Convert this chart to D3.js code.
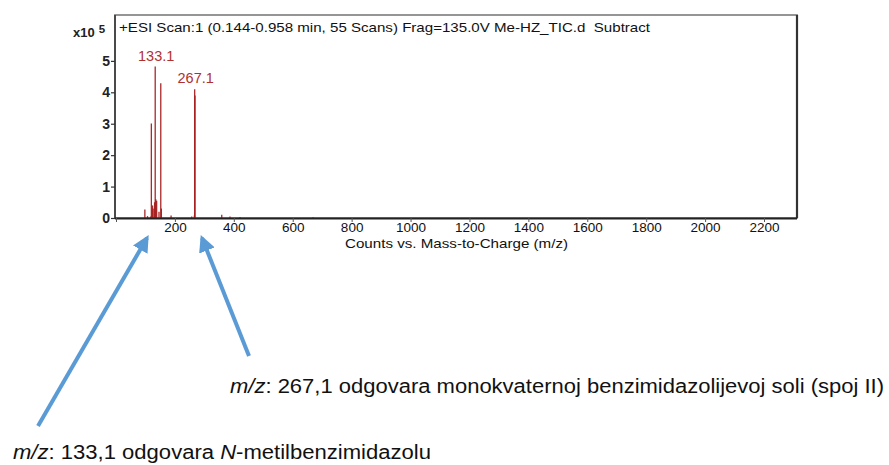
<!DOCTYPE html>
<html>
<head>
<meta charset="utf-8">
<script src="https://cdn.jsdelivr.net/npm/d3@7"></script>
<style>
  html, body { margin: 0; padding: 0; background: #fff; }
  svg { display: block; font-family: "Liberation Sans", Arial, sans-serif; }
</style>
</head>
<body>
<svg id="chart" width="889" height="465"></svg>
<script>
// Mass spectrum peaks: m/z and abundance (counts x10^5)
const mz =     [98, 107, 118, 120, 124, 126, 131, 133.1, 135, 138, 146, 152, 154, 187, 257, 266, 267.1, 268.1, 359, 387, 421, 669];
const counts = [0.27, 0.06, 0.05, 3.01, 0.4, 0.3, 0.5, 4.82, 0.6, 0.55, 0.2, 4.29, 0.3, 0.08, 0.05, 0.08, 4.10, 3.9, 0.1, 0.05, 0.03, 0.02];
const labelledPeaks = [133.1, 267.1];
const xTicks = [0, 200, 400, 600, 800, 1000, 1200, 1400, 1600, 1800, 2000, 2200];
const yTicks = [0, 1, 2, 3, 4, 5];
const headerText = "+ESI Scan:1 (0.144-0.958 min, 55 Scans) Frag=135.0V Me-HZ_TIC.d  Subtract";
const xTitle = "Counts vs. Mass-to-Charge (m/z)";
const notes = [
  { mz: 267.1, pre: "m/z", text: ": 267,1 odgovara monokvaternoj benzimidazolijevoj soli (spoj II)" },
  { mz: 133.1, pre: "m/z", text: ": 133,1 odgovara ", ital: "N", post: "-metilbenzimidazolu" }
];

const svg = d3.select("#chart");
const frame = { left: 115, top: 15, right: 797, bottom: 218 };

const x = d3.scaleLinear().domain([0, 2312]).range([116, 797]);
const y = d3.scaleLinear().domain([0, 6.46]).range([218, 15]);

// plot frame: light top/left, darker right edge
svg.append("rect")
  .attr("x", frame.left).attr("y", frame.top)
  .attr("width", frame.right - frame.left).attr("height", frame.bottom - frame.top)
  .attr("fill", "#fff").attr("stroke", "#8a8a8a").attr("stroke-width", 1.8);
svg.append("line")
  .attr("x1", frame.right).attr("x2", frame.right)
  .attr("y1", frame.top).attr("y2", frame.bottom)
  .attr("stroke", "#333").attr("stroke-width", 2.2);
svg.append("line")
  .attr("x1", frame.left).attr("x2", frame.left)
  .attr("y1", frame.top).attr("y2", frame.bottom)
  .attr("stroke", "#222").attr("stroke-width", 1.3);

// peaks
const peaks = mz.map((m, i) => ({ mz: m, v: counts[i] }));
svg.append("g").selectAll("line").data(peaks).join("line")
  .attr("x1", d => x(d.mz)).attr("x2", d => x(d.mz))
  .attr("y1", y(0)).attr("y2", d => y(d.v))
  .attr("stroke", "#a51c1c").attr("stroke-width", 1.3)
  .attr("stroke-opacity", 0.95);

// peak labels
svg.append("g").selectAll("text").data(peaks.filter(d => labelledPeaks.includes(d.mz))).join("text")
  .attr("x", d => x(d.mz) + 1).attr("y", d => y(d.v) - 6)
  .attr("text-anchor", "middle")
  .attr("font-size", 14.5).attr("fill", "#b0302e")
  .text(d => d.mz.toFixed(1));

// x axis
const xAxis = svg.append("g").attr("transform", `translate(0,${frame.bottom})`)
  .call(d3.axisBottom(x).tickValues(xTicks).tickSize(4).tickSizeOuter(0)
    .tickFormat(d => d === 0 ? "" : d));
xAxis.select(".domain").attr("stroke", "#222").attr("stroke-width", 2).attr("d", `M${frame.left},0.5H${frame.right}`);
xAxis.selectAll(".tick line").attr("stroke", "#555");
xAxis.selectAll(".tick text").attr("font-family", "Liberation Sans, Arial, sans-serif")
  .attr("font-size", 13.5).attr("fill", "#111").attr("dy", "0.5em");

// y axis
const yAxis = svg.append("g").attr("transform", `translate(${frame.left},0)`)
  .call(d3.axisLeft(y).tickValues(yTicks).tickSize(4).tickSizeOuter(0).tickFormat(d3.format("d")));
yAxis.select(".domain").remove();
yAxis.selectAll(".tick line").attr("stroke", "#333").attr("stroke-width", 1.2);
yAxis.selectAll(".tick text").attr("font-family", "Liberation Sans, Arial, sans-serif")
  .attr("font-size", 14).attr("font-weight", "bold").attr("fill", "#222").attr("x", -5);

// scale factor
const sf = svg.append("text").attr("x", 73).attr("y", 37).attr("font-size", 13)
  .attr("font-weight", "bold").attr("fill", "#222");
sf.append("tspan").text("x10");
sf.append("tspan").attr("dx", 4).attr("dy", -4).attr("font-size", 11.5).text("5");

// header
svg.append("text").attr("x", 119).attr("y", 32).attr("font-size", 13)
  .attr("fill", "#111").attr("xml:space", "preserve")
  .attr("textLength", 531).attr("lengthAdjust", "spacingAndGlyphs").text(headerText);

// x title
svg.append("text").attr("x", 345).attr("y", 248)
  .attr("font-size", 13).attr("fill", "#111")
  .attr("textLength", 223).attr("lengthAdjust", "spacingAndGlyphs").text(xTitle);

// callout arrows
const arrowColor = "#5b9bd5";
const defs = svg.append("defs");
defs.append("marker").attr("id", "head").attr("viewBox", "0 0 10 10")
  .attr("refX", 8).attr("refY", 5).attr("markerWidth", 4.2).attr("markerHeight", 4.2)
  .attr("markerUnits", "strokeWidth").attr("orient", "auto")
  .append("path").attr("d", "M0,0 L10,5 L0,10 z").attr("fill", arrowColor);

const arrows = [
  { from: [38, 426], to: [147, 238] },
  { from: [249, 356], to: [202, 238] }
];
svg.append("g").selectAll("line").data(arrows).join("line")
  .attr("x1", d => d.from[0]).attr("y1", d => d.from[1])
  .attr("x2", d => d.to[0]).attr("y2", d => d.to[1])
  .attr("stroke", arrowColor).attr("stroke-width", 4)
  .attr("marker-end", "url(#head)");

// annotation texts
const t1 = svg.append("text").attr("x", 230).attr("y", 393).attr("font-size", 20).attr("fill", "#111")
  .attr("textLength", 654).attr("lengthAdjust", "spacingAndGlyphs");
t1.append("tspan").attr("font-style", "italic").text(notes[0].pre);
t1.append("tspan").text(notes[0].text);

const t2 = svg.append("text").attr("x", 13).attr("y", 459).attr("font-size", 20).attr("fill", "#111")
  .attr("xml:space", "preserve").attr("textLength", 418).attr("lengthAdjust", "spacingAndGlyphs");
t2.append("tspan").attr("font-style", "italic").text(notes[1].pre);
t2.append("tspan").text(notes[1].text);
t2.append("tspan").attr("font-style", "italic").text(notes[1].ital);
t2.append("tspan").text(notes[1].post);
</script>
</body>
</html>
